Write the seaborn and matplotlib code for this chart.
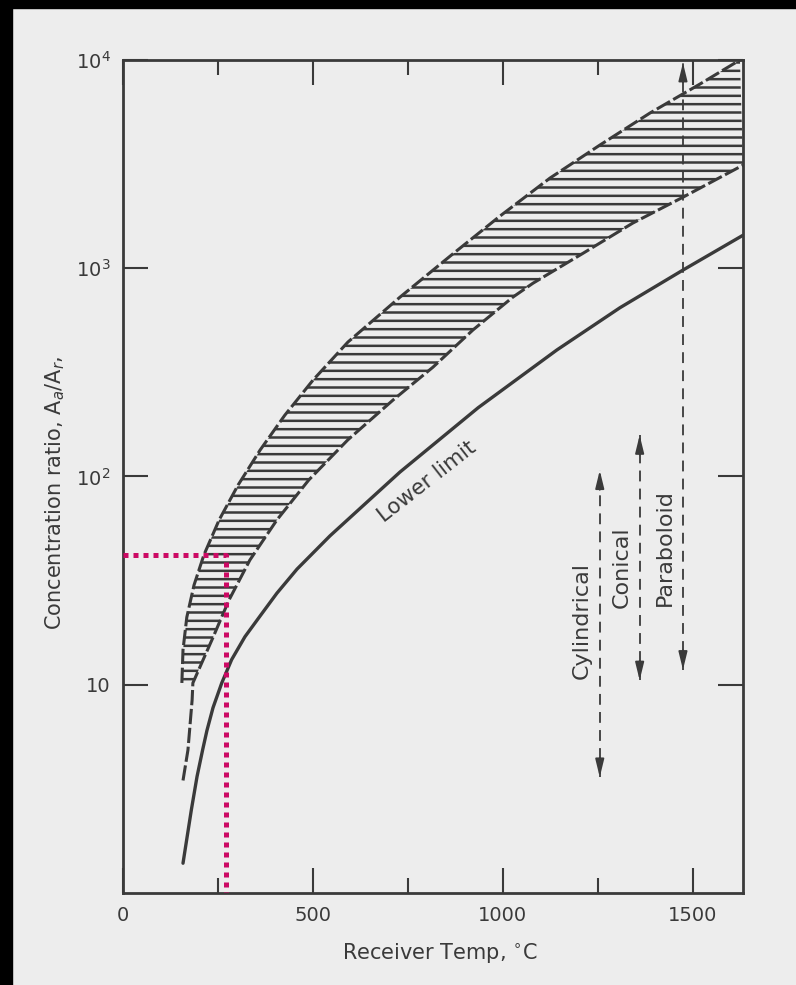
import matplotlib
matplotlib.use("Agg")
import matplotlib.pyplot as plt
from matplotlib.patches import Rectangle
from matplotlib.ticker import FixedLocator, NullLocator
import seaborn as sns

# lower limit curve (solid line)
limit_temp = [158, 180, 195, 210, 221, 237, 260, 286, 321, 361, 405, 458, 545, 650, 729,
              935, 1142, 1308, 1474, 1632]
limit_ratio = [1.39, 2.51, 3.63, 4.90, 6.03, 7.76, 10.2, 13.2, 17.0, 21.4, 27.5, 35.9, 51.9,
               77.6, 105, 214, 405, 646, 980, 1440]

# hatched band, upper (left) edge
band_top_temp = [155, 158, 168, 187, 213, 253, 303, 361, 426, 500, 592, 729, 861, 992,
                 1124, 1255, 1387, 1518, 1624]
band_top_ratio = [10.2, 14.7, 21.1, 30.1, 42.0, 61.8, 91.0, 134, 197, 290, 442, 726, 1143,
                  1778, 2710, 3900, 5560, 7650, 10000]

# hatched band, lower (right) edge
band_low_temp = [184, 234, 279, 334, 405, 489, 592, 711, 816, 921, 1026, 1079, 1211, 1342,
                 1474, 1632]
band_low_ratio = [10.2, 16.4, 25.5, 39.7, 61.8, 96.2, 150, 233, 335, 505, 726, 847, 1180,
                  1648, 2193, 3126]

# dashed tail under the band
tail_temp = [158, 171, 182]
tail_ratio = [3.47, 4.86, 8.45]

# receiver types: vertical ranges
receivers = ["Cylindrical", "Conical", "Paraboloid"]
receiver_temp = [1255, 1360, 1474]
receiver_low = [3.6, 10.5, 11.8]
receiver_high = [107, 158, 9700]
label_temp = [1208, 1313, 1426]
label_ratio = [20.4, 36.7, 45.8]

# highlighted reading (pink dotted)
mark_temp = 270
mark_ratio = 42

x_ticks = [0, 500, 1000, 1500]
x_minor = [250, 750, 1250]
y_ticks = [10, 100, 1000, 10000]
y_labels = ["10", r"$10^2$", r"$10^3$", r"$10^4$"]

INK = "#3a3a3a"
PAGE = "#ededed"
PINK = "#cc0a64"

sns.set_theme(style="ticks")
plt.rcParams["font.family"] = ["DejaVu Sans"]
plt.rcParams["hatch.linewidth"] = 1.8
plt.rcParams["text.color"] = INK
plt.rcParams["axes.labelcolor"] = INK

fig = plt.figure(figsize=(7.96, 9.85), dpi=100, facecolor=PAGE)
# black scan borders
fig.patches.append(Rectangle((0, 0), 12 / 796, 1, transform=fig.transFigure, color="black", zorder=-1))
fig.patches.append(Rectangle((0, 1 - 8 / 985), 1, 8 / 985, transform=fig.transFigure, color="black", zorder=-1))

ax = fig.add_axes([0.1545, 0.0934, 0.7789, 0.8457])
ax.set_facecolor(PAGE)
ax.set_yscale("log")
ax.set_xlim(0, 1632)
ax.set_ylim(1, 1e4)

# hatched band
band_x = band_top_temp + band_low_temp[::-1]
band_y = band_top_ratio + band_low_ratio[::-1]
ax.fill(band_x, band_y, facecolor="none", edgecolor=INK, linewidth=0, hatch="--")

edge_ls = (0, (5, 1.2))
sns.lineplot(x=band_top_temp, y=band_top_ratio, ax=ax, color=INK, lw=2.2,
             linestyle=edge_ls, sort=False, estimator=None)
sns.lineplot(x=tail_temp + band_low_temp, y=tail_ratio + band_low_ratio, ax=ax,
             color=INK, lw=2.2, linestyle=edge_ls, sort=False, estimator=None)

# lower limit
sns.lineplot(x=limit_temp, y=limit_ratio, ax=ax, color=INK, lw=2.4, sort=False, estimator=None)
ax.text(800, 94, "Lower limit", rotation=38, ha="center", va="center",
        rotation_mode="anchor", fontsize=15.5, color=INK)

# receiver ranges
for name, t, lo, hi, lt, lr in zip(receivers, receiver_temp, receiver_low, receiver_high,
                                   label_temp, label_ratio):
    sns.lineplot(x=[t, t], y=[lo, hi], ax=ax, color=INK, lw=1.3,
                 linestyle=(0, (6, 4)), sort=False, estimator=None)
    arrow = dict(arrowstyle="-|>,head_length=0.9,head_width=0.22", color=INK, lw=1.3,
                 shrinkA=0, shrinkB=0)
    ax.annotate("", xy=(t, hi), xytext=(0, -14), textcoords="offset points", arrowprops=arrow)
    ax.annotate("", xy=(t, lo), xytext=(0, 14), textcoords="offset points", arrowprops=arrow)
    ax.text(lt, lr, name, rotation=90, ha="center", va="center", fontsize=16, color=INK)

# pink dotted reading
sns.lineplot(x=[0, mark_temp, mark_temp], y=[mark_ratio, mark_ratio, 1], ax=ax, color=PINK,
             lw=3.6, linestyle=(0, (1, 1)), sort=False, estimator=None, zorder=5)

ax.set_xticks(x_ticks)
ax.xaxis.set_minor_locator(FixedLocator(x_minor))
ax.set_yticks(y_ticks, y_labels)
ax.yaxis.set_minor_locator(NullLocator())
ax.tick_params(which="both", direction="in", top=True, right=True, width=1.5,
               colors=INK, labelsize=14, pad=9)
ax.tick_params(which="major", length=18)
ax.tick_params(which="minor", length=11)
for s in ax.spines.values():
    s.set_linewidth(2.0)
    s.set_color(INK)

ax.set_xlabel("Receiver Temp, $^{\\circ}$C", fontsize=15)
ax.set_ylabel("Concentration ratio, A$_a$/A$_r$,", fontsize=15)
ax.xaxis.set_label_coords(0.511, -0.072, transform=ax.transAxes)
ax.yaxis.set_label_coords(-0.09, 0.48)
ax.xaxis.label.set_va("center")

fig.savefig("out.png", dpi=100, facecolor=fig.get_facecolor())
